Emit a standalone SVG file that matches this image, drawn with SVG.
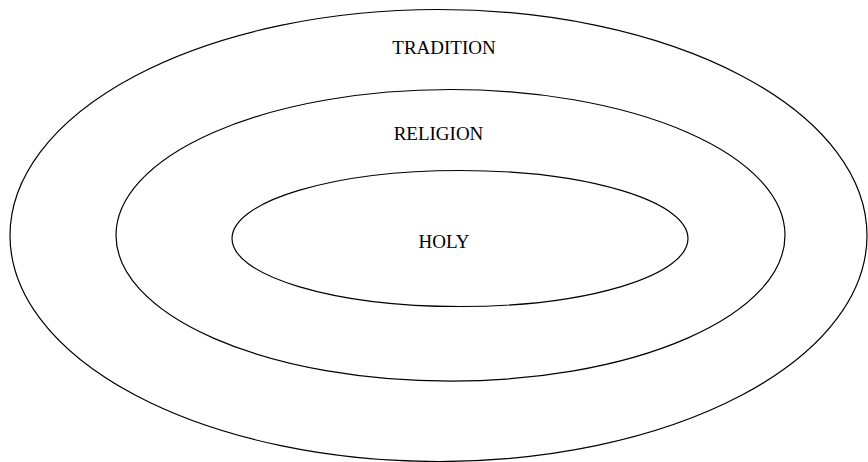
<svg xmlns="http://www.w3.org/2000/svg" width="868" height="462" viewBox="0 0 868 462">
<style>
.ring{fill:none;stroke:#000;stroke-width:1.2}
.lbl{font-family:"Liberation Serif","Times New Roman",serif;font-size:19px;fill:#000;text-anchor:middle}
</style>
<rect width="868" height="462" fill="#fff"/>
<g id="tradition">
<ellipse class="ring" cx="438.5" cy="235.5" rx="428.5" ry="226"/>
<text class="lbl" x="444" y="54">TRADITION</text>
</g>
<g id="religion">
<ellipse class="ring" cx="450.5" cy="235.3" rx="334.5" ry="145.8"/>
<text class="lbl" x="438.5" y="140">RELIGION</text>
</g>
<g id="holy">
<ellipse class="ring" cx="460" cy="238.5" rx="228" ry="68"/>
<text class="lbl" x="444" y="248">HOLY</text>
</g>
<g id="connectors"/>
</svg>
